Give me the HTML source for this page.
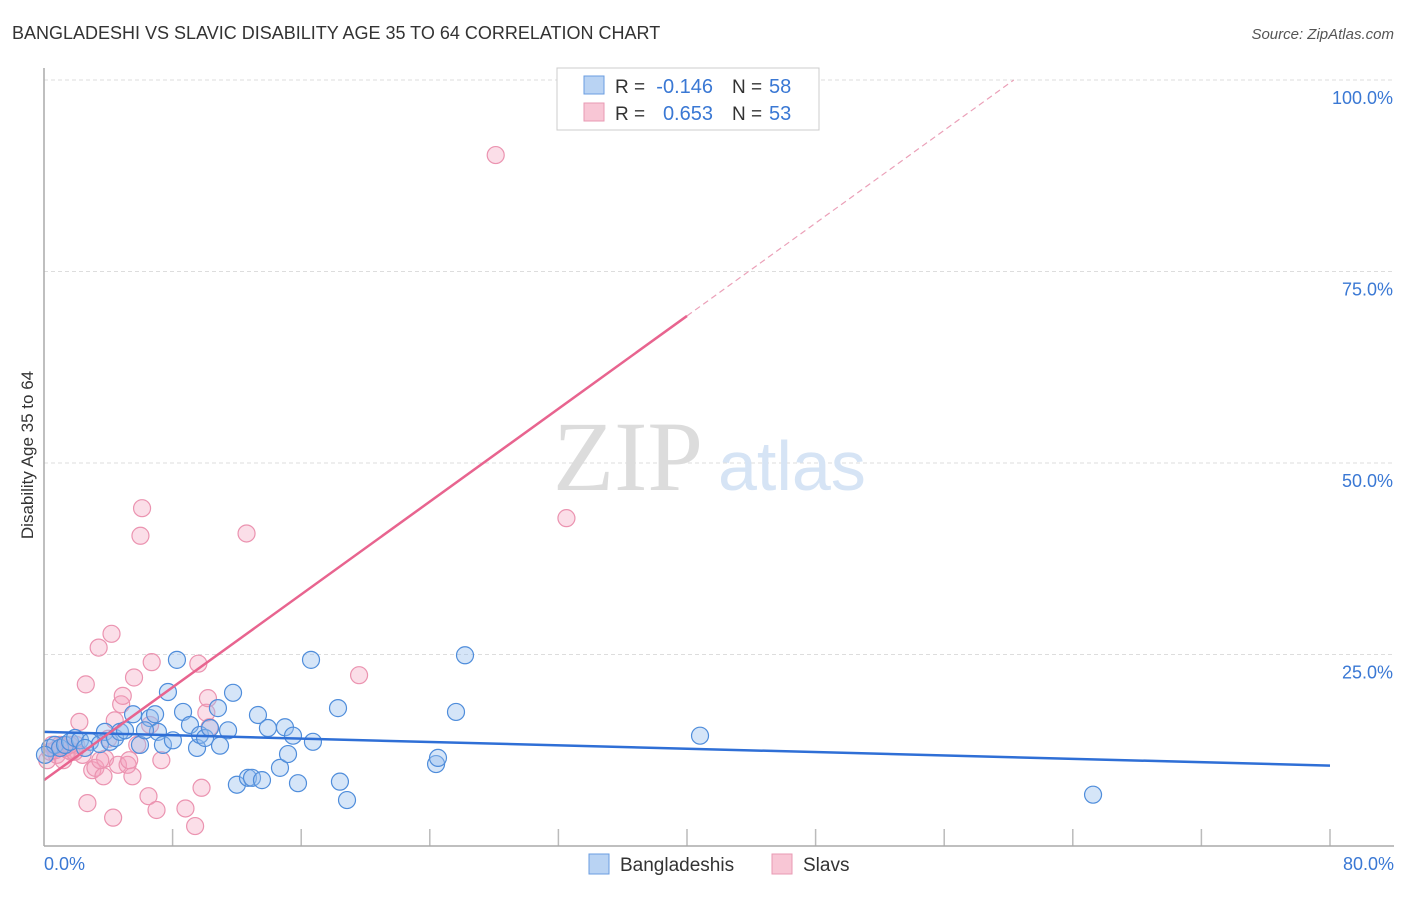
<!DOCTYPE html>
<html><head><meta charset="utf-8"><style>
body{margin:0;background:#fff;font-family:"Liberation Sans",sans-serif;}
svg text{font-family:"Liberation Sans",sans-serif;}
</style></head><body>
<svg id="chart" width="1406" height="892" xmlns="http://www.w3.org/2000/svg">
<text x="12" y="39" font-size="18" fill="#333">BANGLADESHI VS SLAVIC DISABILITY AGE 35 TO 64 CORRELATION CHART</text>
<text x="1394" y="39" font-size="15" fill="#555" font-style="italic" text-anchor="end">Source: ZipAtlas.com</text>
<text x="33" y="455" font-size="17" fill="#333" text-anchor="middle" transform="rotate(-90 33 455)">Disability Age 35 to 64</text>
<g id="grid"></g>
<text x="553" y="490" font-size="100" fill="#dcdcdc" font-family="Liberation Serif" style="font-family:'Liberation Serif',serif">ZIP</text>
<text x="718" y="490" font-size="70" fill="#d6e4f5">atlas</text>
<g id="points"></g>
<g id="lines"></g>
<line x1="44" y1="68" x2="44" y2="846" stroke="#aaa" stroke-width="1.5"/>
<line x1="44" y1="846" x2="1394" y2="846" stroke="#aaa" stroke-width="1.5"/>
<text x="44" y="870" font-size="18" fill="#3a78d4">0.0%</text>
<text x="1394" y="870" font-size="18" fill="#3a78d4" text-anchor="end">80.0%</text>
<g>
<rect x="557" y="68" width="262" height="62" fill="#fff" stroke="#ccc"/>
<rect x="584" y="76" width="20" height="18" fill="#b9d3f3" stroke="#6a9de0"/>
<rect x="584" y="103" width="20" height="18" fill="#f8c6d5" stroke="#e89ab3"/>
<text x="615" y="93" font-size="19" fill="#333">R =</text>
<text x="713" y="93" font-size="20" fill="#3a78d4" text-anchor="end">-0.146</text>
<text x="732" y="93" font-size="19" fill="#333">N =</text>
<text x="769" y="93" font-size="20" fill="#3a78d4">58</text>
<text x="615" y="120" font-size="19" fill="#333">R =</text>
<text x="713" y="120" font-size="20" fill="#3a78d4" text-anchor="end">0.653</text>
<text x="732" y="120" font-size="19" fill="#333">N =</text>
<text x="769" y="120" font-size="20" fill="#3a78d4">53</text>
</g>
<g>
<rect x="589" y="854" width="20" height="20" fill="#b9d3f3" stroke="#6a9de0"/>
<text x="620" y="871" font-size="19" fill="#333">Bangladeshis</text>
<rect x="772" y="854" width="20" height="20" fill="#f8c6d5" stroke="#e89ab3"/>
<text x="803" y="871" font-size="19" fill="#333">Slavs</text>
</g>
</svg>
<script>
const yTicks=[25,50,75,100];
const yTickLabels=["25.0%","50.0%","75.0%","100.0%"];
const xTicks=[8,16,24,32,40,48,56,64,72,80];
const blueX=[0.37,0.68,1.0,1.31,1.62,1.93,2.24,2.86,3.48,3.79,4.11,4.42,4.73,5.04,5.54,5.97,6.59,6.91,7.09,7.40,7.71,8.02,8.27,8.65,9.08,9.52,9.70,10.02,10.33,10.82,10.95,11.45,11.76,12.0,12.69,12.94,13.31,13.56,13.93,14.68,14.99,15.18,15.49,15.80,16.61,16.73,18.29,18.41,18.85,24.39,24.51,25.63,26.19,40.81,65.26,0.06,2.55,6.28];
const blueY=[12.8,13.2,12.8,13.2,13.6,14.1,13.8,13.6,13.3,14.9,13.6,14.1,14.9,15.1,17.2,13.2,16.7,17.2,14.9,13.2,20.1,13.8,24.3,17.5,15.8,12.8,14.5,14.1,15.4,18.0,13.1,15.1,20.0,8.0,8.9,8.9,17.1,8.6,15.4,10.2,15.5,12.0,14.4,8.2,24.3,13.6,18.0,8.4,6.0,10.7,11.5,17.5,24.9,14.4,6.7,11.9,12.8,15.1];
const pinkX=[0.2,0.4,0.5,0.8,1.0,1.2,1.5,1.7,2.0,2.2,2.4,2.6,2.7,3.0,3.2,3.4,3.7,3.8,4.0,4.2,4.3,4.6,4.8,4.9,5.2,5.3,5.5,5.6,5.8,6.0,6.1,6.5,6.7,7.0,7.3,8.8,9.4,9.6,9.8,10.1,10.2,10.3,12.6,19.6,28.1,32.5,1.3,1.9,0.7,3.5,4.4,1.6,6.6];
const pinkY=[11.2,12.3,13.2,11.9,13.2,11.2,12.5,12.3,13.2,16.2,11.9,21.1,5.6,9.9,10.2,25.9,9.1,11.4,14.0,27.7,3.7,10.6,18.5,19.6,10.6,11.2,9.1,22.0,13.2,40.5,44.1,6.5,24.0,4.7,11.2,4.9,2.6,23.8,7.6,17.4,19.3,15.5,40.8,22.3,90.2,42.8,12.8,12.3,12.5,11.2,16.4,13.2,15.8];
const blueLine=[14.9,10.5];
const pinkLine=[8.6,69.2];
const NS="http://www.w3.org/2000/svg";
const X=v=>44+v*(1286/80);
const Y=v=>846-v*7.66;
function mk(tag,attrs,parent){const e=document.createElementNS(NS,tag);for(const k in attrs)e.setAttribute(k,attrs[k]);parent.appendChild(e);return e;}
const grid=document.getElementById('grid');
yTicks.forEach((t,i)=>{
const l=mk('line',{x1:44,x2:1394,y1:Y(t),y2:Y(t),stroke:'#ddd','stroke-dasharray':'4 3'},grid);


const tx=mk('text',{x:1393,y:Y(t)+24,'font-size':18,fill:'#3a78d4','text-anchor':'end'},grid);
tx.textContent=yTickLabels[i];


});
xTicks.forEach(t=>{
const l=mk('line',{x1:X(t),x2:X(t),y1:829,y2:846,stroke:'#bbb','stroke-width':1.5},grid);


});
const pts=document.getElementById('points');
pinkX.forEach((x,i)=>{
const c=mk('circle',{cx:X(x),cy:Y(pinkY[i]),r:8.5,fill:'rgba(244,160,188,0.35)',stroke:'#eb93b0','stroke-width':1.2},pts);


});
blueX.forEach((x,i)=>{
const c=mk('circle',{cx:X(x),cy:Y(blueY[i]),r:8.5,fill:'rgba(150,190,238,0.4)',stroke:'#4f8ddb','stroke-width':1.2},pts);


});
const lines=document.getElementById('lines');
const bl=mk('line',{x1:X(0),y1:Y(blueLine[0]),x2:X(80),y2:Y(blueLine[1]),stroke:'#2f6fd6','stroke-width':2.5},lines);


const slope=(pinkLine[1]-pinkLine[0])/40;
const pl=mk('line',{x1:X(0),y1:Y(pinkLine[0]),x2:X(40),y2:Y(pinkLine[1]),stroke:'#e8648f','stroke-width':2.5},lines);


const xe=(100-pinkLine[0])/slope;
const pd=mk('line',{x1:X(40),y1:Y(pinkLine[1]),x2:X(xe),y2:Y(100),stroke:'#eba0b8','stroke-width':1.2,'stroke-dasharray':'6 4'},lines);


</script>
</body></html>
